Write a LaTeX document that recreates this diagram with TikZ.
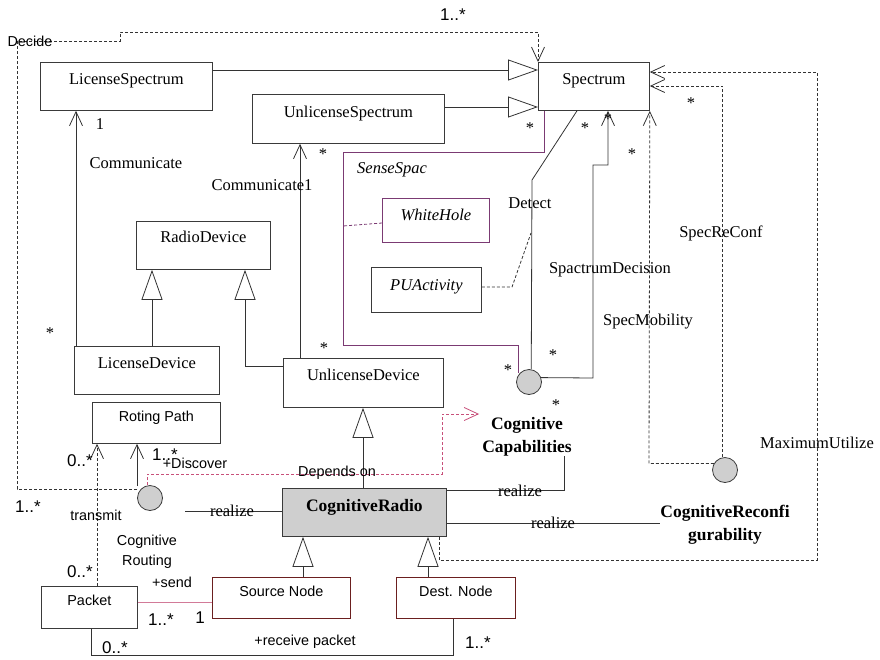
\documentclass[tikz,border=0pt]{standalone}
\usepackage{fontspec}
\setmainfont{Liberation Serif}
\newfontfamily\sansf{Liberation Sans}
\usetikzlibrary{arrows.meta}
\definecolor{lc}{HTML}{333333}
\definecolor{bc}{HTML}{3a3a3a}
\definecolor{cf}{HTML}{CFCFCF}
\definecolor{purp}{HTML}{7B3A73}
\definecolor{pink}{HTML}{C8507A}
\definecolor{lpink}{HTML}{D27A98}
\definecolor{dr}{HTML}{6B1F1F}
\newcommand\fsser{\fontsize{16.5}{19}\selectfont}
\newcommand\fssan{\sansf\fontsize{14.4}{20}\selectfont}
\newcommand\fsmul{\sansf\fontsize{17}{19}\selectfont}
\newcommand\fsbold{\bfseries\fontsize{17.5}{22.5}\selectfont}
\tikzset{
  ln/.style={draw=lc, line width=0.8pt},
  dsh/.style={ln, dash pattern=on 3pt off 2pt},
  nav/.style={-{Straight Barb[length=14pt,width=13pt,line width=0.8pt]}},
  gen/.style={-{Triangle[open,length=30pt,width=21pt,line width=0.8pt,fill=white]}},
  cls/.style={draw=bc, line width=0.8pt, inner sep=0pt, font=\fsser, anchor=north west, text height=22.5pt},
  sbox/.style={draw=bc, line width=0.8pt, inner sep=0pt, font=\fssan, anchor=north west, text height=19pt},
  circ/.style={circle, draw=bc, line width=0.8pt, fill=cf, minimum size=25pt, inner sep=0pt},
  lab/.style={font=\fsser, inner sep=0pt},
  slab/.style={font=\fssan, inner sep=0pt},
  mul/.style={font=\fsmul, inner sep=0pt},
  blab/.style={font=\fsbold, inner sep=0pt, align=center}
}
\begin{document}
\begin{tikzpicture}[x=1pt,y=-1pt]
\useasboundingbox (0,0) rectangle (880,659);
% ---------- classes
\node[cls, minimum width=172pt, text depth=25.5pt] (ls) at (40,62) {LicenseSpectrum};
\node[cls, minimum width=111pt, text depth=25.5pt] (sp) at (538,62) {Spectrum};
\node[cls, minimum width=192pt, text height=23.5pt, text depth=25.5pt] (us) at (252,94) {UnlicenseSpectrum};
\node[cls, draw=purp, minimum width=107pt, text depth=21.5pt, font=\fsser\itshape] (wh) at (382,198) {WhiteHole};
\node[cls, minimum width=110pt, text height=23.5pt, text depth=21.5pt, font=\fsser\itshape] (pua) at (371,267) {PUActivity};
\node[cls, minimum width=134pt, text height=21.5pt, text depth=26.5pt] (rd) at (136,221) {RadioDevice};
\node[cls, minimum width=145pt, text depth=25.5pt] (ld) at (74,346) {LicenseDevice};
\node[cls, minimum width=160pt, text depth=26.5pt] (ud) at (283,358) {UnlicenseDevice};
\node[cls, fill=cf, font=\fsbold, minimum width=164pt, text height=23.5pt, text depth=24.5pt] (crad) at (282,488) {CognitiveRadio};
\node[sbox, minimum width=128pt, text depth=22pt] (rp) at (92,402) {Roting Path};
\node[sbox, minimum width=96pt, text depth=23pt] (pk) at (41,586) {Packet};
\node[sbox, draw=dr, minimum width=138pt, text depth=22pt] (sn) at (212,577) {Source Node};
\node[sbox, draw=dr, minimum width=119pt, text depth=22pt] (dn) at (396,577) {Dest. Node};
% ---------- collaborations (circles) and their names
\node[circ] (sc) at (529,382) {};
\node[circ] (crc) at (150,498) {};
\node[circ] (crf) at (725,470) {};
\node[blab, inner xsep=3pt] (ccap) at (527,437) {Cognitive\\Capabilities};
\node[blab] (crec) at (725,525) {CognitiveReconfi\\gurability};
\node[slab, align=center] (crt) at (147,552) {Cognitive\\Routing};
\coordinate (rjoin) at (137,486);
\coordinate (rzs) at (185,511);
% ---------- generalizations
\draw[ln,gen] (ls.east|-0,70) -- (sp.west|-0,70);
\draw[ln,gen] (us.east|-0,107) -- (sp.west|-0,107);
\draw[ln,gen] (ld.north-|152,0) -- (rd.south-|152,0);
\draw[ln,gen] (ud.west|-0,366) -- (245,366) -- (rd.south-|245,0);
\draw[ln,gen] (crad.north-|363,0) -- (ud.south-|363,0);
\draw[ln,gen] (sn.north-|303,0) -- (crad.south-|303,0);
\draw[ln,gen] (dn.north-|428,0) -- (crad.south-|428,0);
% ---------- associations
\draw[ln,nav] (ld.north-|76,0) -- (ls.south-|76,0);
\draw[ln,nav] (ud.north-|300,0) -- (us.south-|300,0);
\draw[dsh,nav] (rjoin|-0,489) -- (17,489) -- (17,41) -- (120,41) -- (120,32) -- (538,32) -- (sp.north west);
\draw[draw=purp, line width=0.8pt] (sp.south-|544,0) -- (544,152) -- (343,152) -- (343,345) -- (518,345) -- (sc.135-|518,0);
\draw[draw=purp, line width=0.8pt, dash pattern=on 3pt off 2pt] (wh.west|-0,223) -- (343,226);
\draw[dsh] (pua.east|-0,287) -- (512,287) -- (531,233);
\draw[ln] (sp.south-|577,0) -- (532,180) -- (sc.80);
\draw[ln,nav] (sc.20) -- (593,378) -- (593,165) -- (608,165) -- (sp.south-|608,0);
\draw[dsh,nav] (crf.150) -- (crf.150-|649,0) -- (sp.south east);
\draw[dsh,nav] (crf.100) -- (crf.100|-0,86) -- (sp.east|-0,86);
\draw[dsh,nav] (crad.south-|439,0) -- (439,560) -- (817,560) -- (817,72) -- (sp.east|-0,72);
\draw[ln] (crad.east|-0,490) -- (564,490) -- (ccap.south-|564,0);
\draw[ln] (crad.east|-0,523) -- (crec.west|-0,523);
\draw[draw=pink, line width=0.8pt, dash pattern=on 3pt off 2pt, -{Straight Barb[length=14pt,width=13pt,line width=0.8pt]}] (crc.100) -- (crc.100|-0,474) -- (442,474) -- (442,414) -- (ccap.west|-0,414);
\draw[ln,nav] (rjoin) -- (rp.south-|rjoin);
\draw[dsh,nav] (pk.north-|97,0) -- (rp.south-|97,0);
\draw[ln] (rzs) -- (crad.west|-rzs);
\draw[draw=lpink, line width=0.8pt] (pk.east|-0,602) -- (sn.west|-0,602);
\draw[ln] (pk.south-|91,0) -- (91,655) -- (453,655) -- (dn.south-|453,0);
% ---------- labels
\node[mul] (m1) at (453,15) {1..*};
\node[slab] (tdec) at (30,41) {Decide};
\node[lab] (tone) at (100,124) {1};
\node[lab] (tcom) at (136,163) {Communicate};
\node[lab] (tcom1) at (262,185) {Communicate1};
\node[lab] (s1) at (323,154) {*};
\node[lab] (s2) at (530,128) {*};
\node[lab] (s3) at (585,128) {*};
\node[lab] (s4) at (608,119) {*};
\node[lab] (s5) at (632,154) {*};
\node[lab] (s6) at (691,103) {*};
\node[lab] (s7) at (50,333) {*};
\node[lab] (s8) at (324,348) {*};
\node[lab] (s9) at (508,370) {*};
\node[lab] (s10) at (553,355) {*};
\node[lab] (s11) at (556,405) {*};
\node[lab, font=\fsser\itshape] (tss) at (392,170) {SenseSpac};
\node[lab] (tdet) at (530,203) {Detect};
\node[lab] (tsd) at (610,270) {SpactrumDecision};
\node[lab] (tsm) at (648,322) {SpecMobility};
\node[lab] (tsr) at (721,233) {SpecReConf};
\node[lab] (tmu) at (817,443) {MaximumUtilize};
\node[lab] (tr1) at (520,491) {realize};
\node[lab] (tr2) at (553,523) {realize};
\node[lab] (tr3) at (232,511) {realize};
\node[slab] (tdep) at (337,473) {Depends on};
\node[slab] (tdis) at (195,463) {+Discover};
\node[mul] (m2) at (165,455) {1..*};
\node[mul] (m3) at (80,461) {0..*};
\node[mul] (m4) at (28,507) {1..*};
\node[slab] (ttr) at (96,515) {transmit};
\node[slab] (tsend) at (172,582) {+send};
\node[mul] (m5) at (80,572) {0..*};
\node[mul] (m6) at (161,620) {1..*};
\node[mul] (m7) at (200,618) {1};
\node[slab] (trec) at (305,642) {+receive packet};
\node[mul] (m8) at (115,648) {0..*};
\node[mul] (m9) at (478,643) {1..*};
\end{tikzpicture}
\end{document}
